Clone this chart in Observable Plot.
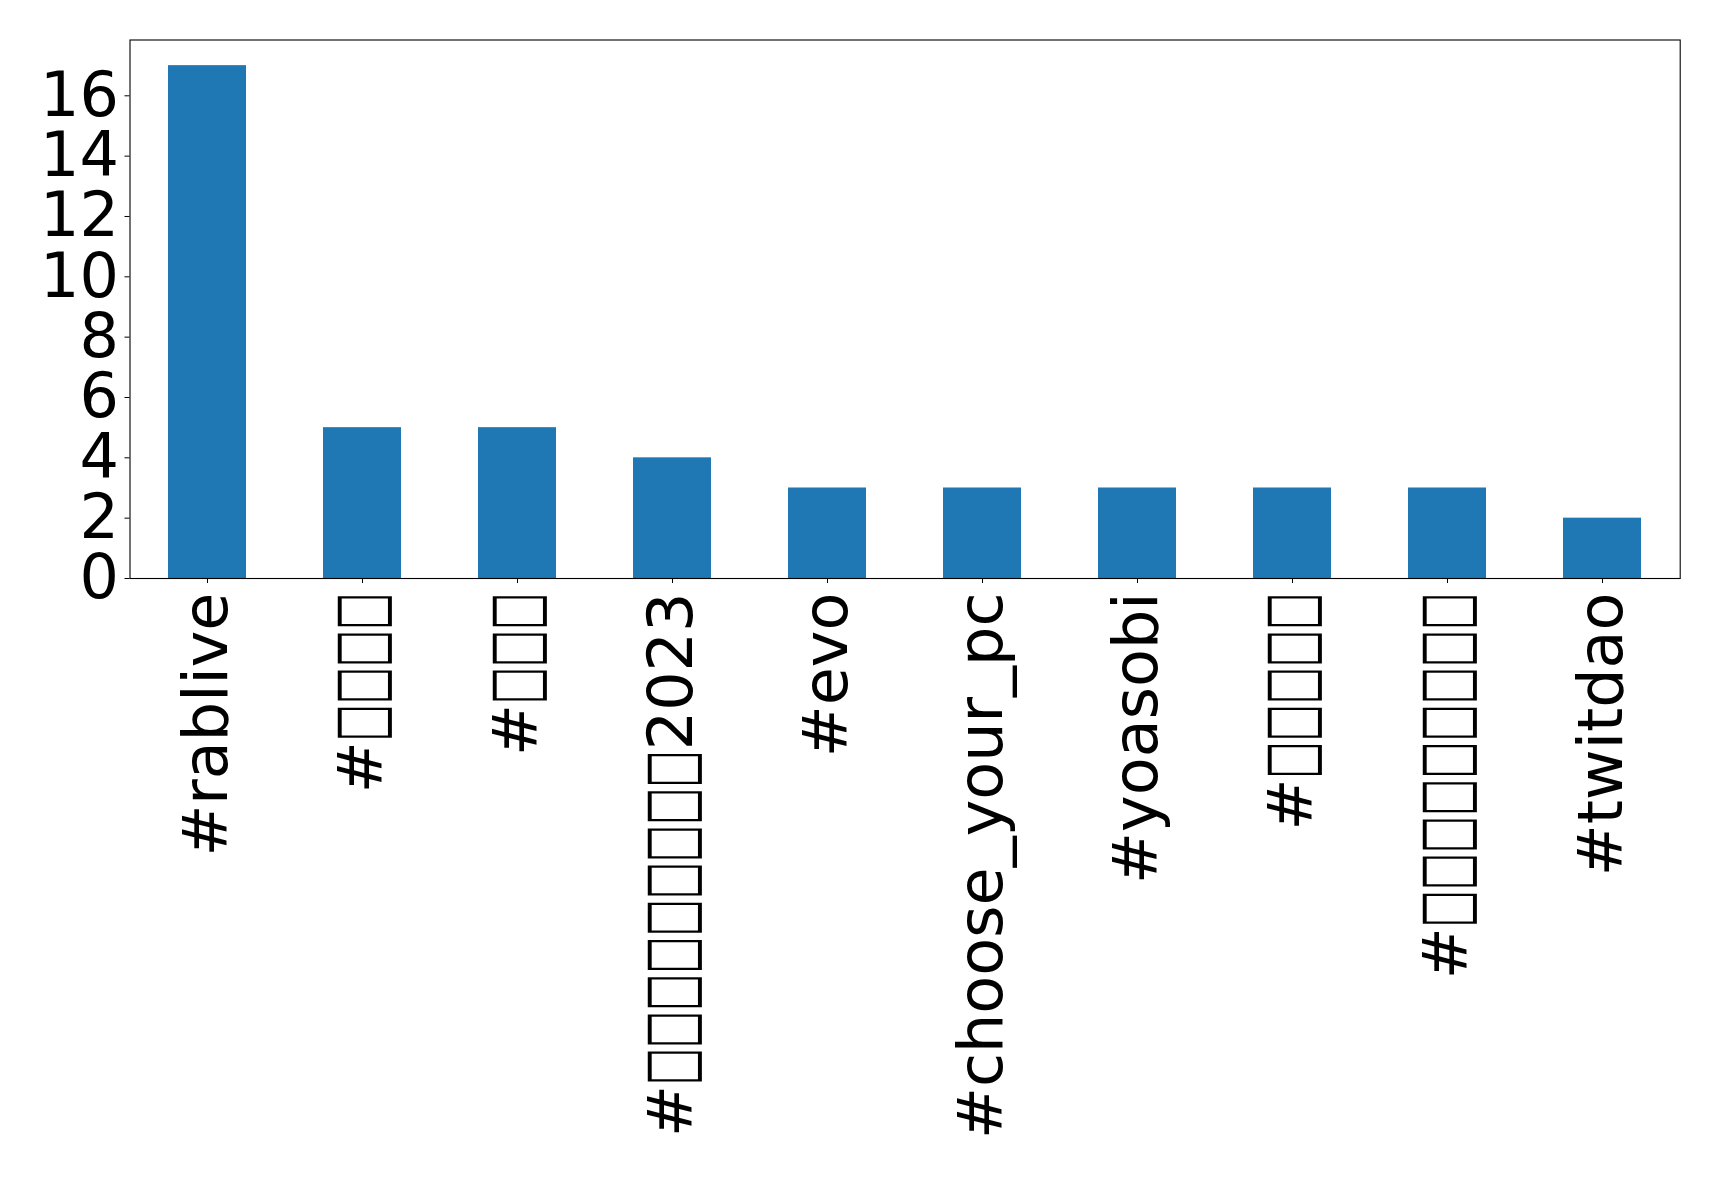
<!DOCTYPE html>
<html>
<head>
<meta charset="utf-8">
<script src="https://cdn.jsdelivr.net/npm/d3@7"></script>
<script src="https://cdn.jsdelivr.net/npm/@observablehq/plot@0.6"></script>
<style>
  html, body { margin: 0; padding: 0; background: #ffffff; }
  #chart svg { display: block; }
</style>
</head>
<body>
<div id="chart"></div>
<script>
// Hashtags (Japanese characters rendered as missing-glyph boxes in the original)
const hashtags = [
  "#rablive",
  "#□□□□",
  "#□□□",
  "#□□□□□□□□□2023",
  "#evo",
  "#choose_your_pc",
  "#yoasobi",
  "#□□□□□",
  "#□□□□□□□□□",
  "#twitdao"
];
const counts = [17, 5, 5, 4, 3, 3, 3, 3, 3, 2];
const yTicks = [0, 2, 4, 6, 8, 10, 12, 14, 16];

const data = hashtags.map((tag, i) => ({ tag, count: counts[i] }));

const FONT_PX = 62;

const chart = Plot.plot({
  width: 1719,
  height: 1179,
  marginLeft: 129.5,
  marginRight: 39.3,
  marginTop: 39.5,
  marginBottom: 601,
  style: {
    fontFamily: "'DejaVu Sans', sans-serif",
    fontSize: FONT_PX + "px",
    background: "#ffffff",
    color: "#000000"
  },
  x: { domain: hashtags, paddingInner: 0.5, paddingOuter: 0.25, label: null },
  y: { domain: [0, 17.85], label: null },
  marks: [
    Plot.barY(data, { x: "tag", y: "count", fill: "#1f77b4", insetLeft: 0, insetRight: 0 }),
    Plot.axisY({ ticks: yTicks, tickSize: 5, tickPadding: 6, fontSize: FONT_PX, label: null, tickFormat: d => String(d) }),
    Plot.axisX({ tickSize: 5, tickPadding: 9, tickRotate: -90, fontSize: FONT_PX, label: null }),
    Plot.frame({ stroke: "#000000", strokeWidth: 1.1 })
  ]
});

document.getElementById("chart").appendChild(chart);

// Make the box glyphs look like the original's missing-glyph boxes
// (narrow, tall rectangles with 0.6em advance).
(function () {
  const boxChar = "□";
  const BOX_ADV = 0.6 * FONT_PX;     // advance per box
  const BOX_ASC = 0.73 * FONT_PX;    // ink above baseline
  const BOX_DESC = 0.16 * FONT_PX;   // ink below baseline
  const ctx = document.createElement("canvas").getContext("2d");
  ctx.font = "100px 'DejaVu Sans'";
  const m = ctx.measureText(boxChar);
  const A = m.actualBoundingBoxAscent, D = m.actualBoundingBoxDescent;
  if (!(A + D > 0)) return;
  const fs = (BOX_ASC + BOX_DESC) / ((A + D) / 100);
  const raise = (D * fs / 100) - BOX_DESC;
  d3.select(chart).selectAll('g[aria-label="x-axis tick label"] text').each(function () {
    const t = d3.select(this);
    const s = t.text();
    if (!s.includes(boxChar)) return;
    t.text(null);
    const runs = s.match(/□+|[^□]+/g);
    let carry = 0;
    for (const r of runs) {
      const ts = t.append("tspan").text(r);
      if (r[0] === boxChar) {
        ts.attr("font-size", fs)
          .attr("dy", carry - raise)
          .attr("textLength", r.length * BOX_ADV)
          .attr("lengthAdjust", "spacingAndGlyphs");
        carry = raise;
      } else if (carry) {
        ts.attr("dy", carry);
        carry = 0;
      }
    }
  });
})();
</script>
</body>
</html>
